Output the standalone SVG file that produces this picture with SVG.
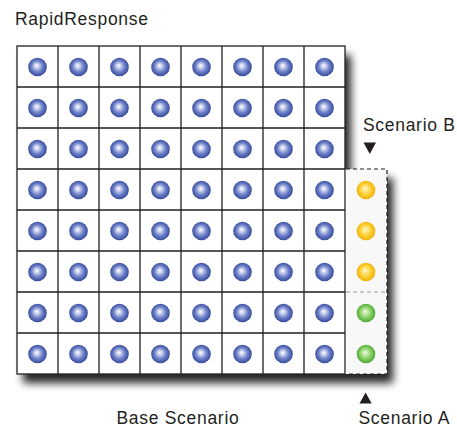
<svg xmlns="http://www.w3.org/2000/svg" xmlns:xlink="http://www.w3.org/1999/xlink" width="457" height="428" viewBox="0 0 457 428">
  <style>
    .label { font-family: "Liberation Sans", Arial, sans-serif; font-size: 17.5px; fill: #231f20; letter-spacing: 0.7px; }
    .grid { fill: none; stroke: #231f20; stroke-width: 1.3; }
    .dash { fill: none; stroke: #231f20; stroke-width: 1.2; stroke-dasharray: 4 3; }
    .dash-light { fill: none; stroke: #9a9a9a; stroke-width: 1.2; stroke-dasharray: 4 3; }
    .mark { fill: #231f20; }
  </style>
  <defs>
    <filter id="soft" x="-10%" y="-10%" width="130%" height="130%">
      <feGaussianBlur stdDeviation="4.5"/>
    </filter>
    <radialGradient id="blueBall" cx="0.5" cy="0.5" r="0.55" fx="0.45" fy="0.42">
      <stop offset="0" stop-color="#ffffff"/>
      <stop offset="0.18" stop-color="#d4daf0"/>
      <stop offset="0.55" stop-color="#6d80c8"/>
      <stop offset="1" stop-color="#2b3f93"/>
    </radialGradient>
    <radialGradient id="yellowBall" cx="0.5" cy="0.5" r="0.55" fx="0.45" fy="0.42">
      <stop offset="0" stop-color="#fffbe6"/>
      <stop offset="0.2" stop-color="#ffe98a"/>
      <stop offset="0.6" stop-color="#fdcc2a"/>
      <stop offset="1" stop-color="#eea800"/>
    </radialGradient>
    <radialGradient id="greenBall" cx="0.5" cy="0.5" r="0.55" fx="0.45" fy="0.42">
      <stop offset="0" stop-color="#f2fbe9"/>
      <stop offset="0.2" stop-color="#c9ebb0"/>
      <stop offset="0.6" stop-color="#7fcb5c"/>
      <stop offset="1" stop-color="#3f9e2f"/>
    </radialGradient>
    <circle id="ball" r="9.3"/>
  </defs>

  <!-- drop shadow under the whole board -->
  <path d="M17 46 H345 V169 H387 V374 H17 Z" transform="translate(6 9)" fill="#000" opacity="0.85" filter="url(#soft)"/>

  <!-- base scenario grid -->
  <g id="base-grid">
    <rect x="17" y="46" width="328" height="328" fill="#ffffff"/>
    <g class="grid">
      <rect x="17" y="46" width="328" height="328"/>
      <path d="M58 46 V374 M99 46 V374 M140 46 V374 M181 46 V374 M222 46 V374 M263 46 V374 M304 46 V374"/>
      <path d="M17 87 H345 M17 128 H345 M17 169 H345 M17 210 H345 M17 251 H345 M17 292 H345 M17 333 H345"/>
    </g>
    <g fill="url(#blueBall)">
      <g id="row0">
        <use xlink:href="#ball" x="37.5" y="67"/>
        <use xlink:href="#ball" x="78.5" y="67"/>
        <use xlink:href="#ball" x="119.5" y="67"/>
        <use xlink:href="#ball" x="160.5" y="67"/>
        <use xlink:href="#ball" x="201.5" y="67"/>
        <use xlink:href="#ball" x="242.5" y="67"/>
        <use xlink:href="#ball" x="283.5" y="67"/>
        <use xlink:href="#ball" x="324.5" y="67"/>
      </g>
      <use xlink:href="#row0" y="41"/>
      <use xlink:href="#row0" y="82"/>
      <use xlink:href="#row0" y="123"/>
      <use xlink:href="#row0" y="164"/>
      <use xlink:href="#row0" y="205"/>
      <use xlink:href="#row0" y="246"/>
      <use xlink:href="#row0" y="287"/>
    </g>
  </g>

  <!-- scenario column: B on top, A below -->
  <g id="scenario-column">
    <rect x="345.6" y="169" width="41.4" height="205" fill="#f8f8f8"/>
    <path class="dash-light" d="M346 292 H387"/>
    <path class="dash" d="M346 169 H387 V374 H346"/>
    <g fill="url(#yellowBall)">
      <use xlink:href="#ball" x="366" y="190"/>
      <use xlink:href="#ball" x="366" y="231"/>
      <use xlink:href="#ball" x="366" y="272"/>
    </g>
    <g fill="url(#greenBall)">
      <use xlink:href="#ball" x="366" y="313"/>
      <use xlink:href="#ball" x="366" y="354"/>
    </g>
  </g>

  <!-- labels -->
  <g id="title">
    <text class="label" x="15" y="25">RapidResponse</text>
  </g>
  <g id="scenario-b">
    <text class="label" x="363" y="131">Scenario B</text>
    <polygon class="mark" points="363.5,142.5 376,142.5 369.8,154"/>
  </g>
  <g id="scenario-a">
    <polygon class="mark" points="359.5,403.5 371.7,403.5 365.6,392.5"/>
    <text class="label" x="358.5" y="423.5">Scenario A</text>
  </g>
  <g id="base-scenario">
    <text class="label" x="116.5" y="423.5">Base Scenario</text>
  </g>
</svg>
